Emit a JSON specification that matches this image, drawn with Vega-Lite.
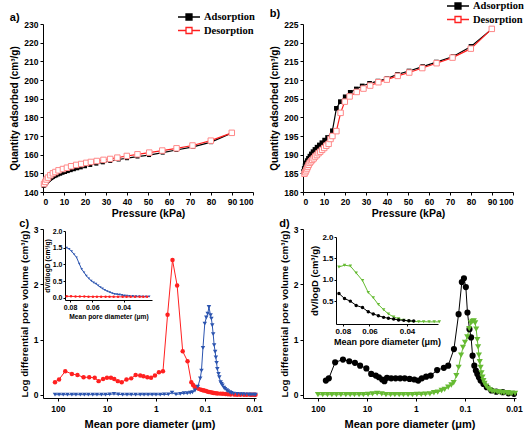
{
"$schema":"https://vega.github.io/schema/vega-lite/v6.json",
"padding":{"left":9,"top":0,"right":0,"bottom":0},
"columns":2,
"spacing":{"row":37,"column":47},
"bounds":"flush",
"resolve":{"scale":{"color":"independent","shape":"independent"},"legend":{"color":"independent","shape":"independent"}},
"config":{
 "font":"Liberation Sans",
 "view":{"stroke":null},
 "axis":{"grid":false,"domainColor":"#000","tickColor":"#000","labelColor":"#000","titleColor":"#000","labelFont":"Liberation Sans","titleFont":"Liberation Sans","labelFontWeight":"bold","titleFontWeight":"bold","labelFontSize":8.5,"titleFontSize":10,"tickSize":3,"labelPadding":2,"domainWidth":1,"tickWidth":1,"titlePadding":4},
 "title":{"font":"Liberation Sans","fontSize":11,"fontWeight":"bold","anchor":"start","frame":"bounds","color":"#000"},
 "legend":{"title":null,"orient":"none","symbolType":"M-2.2,0H-0.6M0.6,0H2.2M-0.6,-0.6H0.6V0.6H-0.6Z","symbolSize":100,"symbolStrokeWidth":1.3,"labelFont":"Liberation Serif","labelFontWeight":"bold","labelFontSize":10.5,"labelColor":"#000","labelOffset":9,"rowPadding":1.5}
},
"concat":[
{
 "width":210,"height":168,
 "title":{"text":"a)","offset":-12},
 "data":{"values":[
  {"s":"Adsorption","p":0.3,"v":143.3},{"s":"Adsorption","p":0.6,"v":143.6},{"s":"Adsorption","p":1.0,"v":144.1},{"s":"Adsorption","p":1.4,"v":144.7},{"s":"Adsorption","p":1.8,"v":145.3},{"s":"Adsorption","p":2.3,"v":145.9},{"s":"Adsorption","p":2.8,"v":146.5},{"s":"Adsorption","p":3.4,"v":147.0},{"s":"Adsorption","p":4.0,"v":147.5},{"s":"Adsorption","p":4.7,"v":148.0},{"s":"Adsorption","p":5.5,"v":148.5},{"s":"Adsorption","p":6.3,"v":148.9},{"s":"Adsorption","p":7.2,"v":149.4},{"s":"Adsorption","p":8.2,"v":149.8},{"s":"Adsorption","p":9.3,"v":150.3},{"s":"Adsorption","p":10.5,"v":150.7},{"s":"Adsorption","p":11.8,"v":151.2},{"s":"Adsorption","p":13.2,"v":151.7},{"s":"Adsorption","p":14.7,"v":152.2},{"s":"Adsorption","p":16.3,"v":152.7},{"s":"Adsorption","p":18,"v":153.2},{"s":"Adsorption","p":20,"v":153.8},{"s":"Adsorption","p":22.5,"v":154.5},{"s":"Adsorption","p":25.4,"v":155.2},{"s":"Adsorption","p":28.5,"v":155.9},{"s":"Adsorption","p":32,"v":156.6},{"s":"Adsorption","p":36,"v":157.4},{"s":"Adsorption","p":40,"v":158.1},{"s":"Adsorption","p":45,"v":159.0},{"s":"Adsorption","p":50.5,"v":159.8},{"s":"Adsorption","p":57,"v":161.1},{"s":"Adsorption","p":63.5,"v":162.5},{"s":"Adsorption","p":71.5,"v":164.2},{"s":"Adsorption","p":80,"v":166.7},{"s":"Adsorption","p":90,"v":171.7},
  {"s":"Desorption","p":0.5,"v":144.3},{"s":"Desorption","p":1.1,"v":145.4},{"s":"Desorption","p":1.7,"v":146.7},{"s":"Desorption","p":2.4,"v":147.7},{"s":"Desorption","p":3.5,"v":149},{"s":"Desorption","p":4.7,"v":150},{"s":"Desorption","p":5.9,"v":150.7},{"s":"Desorption","p":7.4,"v":151.6},{"s":"Desorption","p":9.5,"v":152.3},{"s":"Desorption","p":11.4,"v":153},{"s":"Desorption","p":13.4,"v":153.8},{"s":"Desorption","p":15.8,"v":154.5},{"s":"Desorption","p":18.2,"v":155},{"s":"Desorption","p":20.6,"v":155.6},{"s":"Desorption","p":22.8,"v":156.1},{"s":"Desorption","p":25.6,"v":156.6},{"s":"Desorption","p":28.8,"v":157.2},{"s":"Desorption","p":32,"v":157.7},{"s":"Desorption","p":35.4,"v":158.4},{"s":"Desorption","p":39.9,"v":159.3},{"s":"Desorption","p":45,"v":160.2},{"s":"Desorption","p":50.6,"v":161.1},{"s":"Desorption","p":56.8,"v":162.2},{"s":"Desorption","p":63.6,"v":163.4},{"s":"Desorption","p":71.2,"v":164.9},{"s":"Desorption","p":79.9,"v":167.5},{"s":"Desorption","p":89.9,"v":171.7}
 ]},
 "encoding":{
  "x":{"field":"p","type":"quantitative","scale":{"domain":[0,100],"nice":false},"axis":{"values":[0,10,20,30,40,50,60,70,80,90,100],"title":"Pressure (kPa)","titleFontSize":10.5,"titlePadding":3}},
  "y":{"field":"v","type":"quantitative","scale":{"domain":[140,230],"nice":false,"zero":false},"axis":{"values":[140,150,160,170,180,190,200,210,220,230],"title":"Quantity adsorbed (cm³/g)"}}
 },
 "layer":[
  {"mark":{"type":"line","strokeWidth":1.2},"encoding":{"color":{"field":"s","type":"nominal","scale":{"domain":["Adsorption","Desorption"],"range":["#000000","#ff2020"]},"legend":{"legendX":140,"legendY":-13,"encode":{"symbols":{"update":{"fill":{"signal":"datum.value === 'Adsorption' ? '#000000' : '#ffffff'"}}}}}}}},
  {"transform":[{"filter":"datum.s === 'Adsorption'"}],"mark":{"type":"point","shape":"square","filled":true,"color":"#000","size":16,"opacity":1}},
  {"transform":[{"filter":"datum.s === 'Desorption'"}],"mark":{"type":"point","shape":"square","filled":true,"fill":"#ffffff","stroke":"#ff8888","strokeWidth":1,"size":30,"opacity":1}}
 ]
},
{
 "width":210,"height":168,
 "title":{"text":"b)","offset":-19},
 "data":{"values":[
  {"s":"Adsorption","p":0.3,"v":185.5},{"s":"Adsorption","p":0.6,"v":186.3},{"s":"Adsorption","p":1.0,"v":187.0},{"s":"Adsorption","p":1.5,"v":187.8},{"s":"Adsorption","p":2.0,"v":188.4},{"s":"Adsorption","p":2.6,"v":189.0},{"s":"Adsorption","p":3.3,"v":189.6},{"s":"Adsorption","p":4.0,"v":190.2},{"s":"Adsorption","p":4.8,"v":190.8},{"s":"Adsorption","p":5.7,"v":191.4},{"s":"Adsorption","p":6.7,"v":192.0},{"s":"Adsorption","p":7.8,"v":192.6},{"s":"Adsorption","p":9.0,"v":193.2},{"s":"Adsorption","p":10.3,"v":193.9},{"s":"Adsorption","p":11.7,"v":194.6},{"s":"Adsorption","p":14.0,"v":196.4},{"s":"Adsorption","p":15.9,"v":202.4},{"s":"Adsorption","p":17.8,"v":204.2},{"s":"Adsorption","p":20.1,"v":205.5},{"s":"Adsorption","p":22.5,"v":206.7},{"s":"Adsorption","p":25.4,"v":207.6},{"s":"Adsorption","p":28.2,"v":208.4},{"s":"Adsorption","p":31.7,"v":209.1},{"s":"Adsorption","p":35.7,"v":209.7},{"s":"Adsorption","p":40,"v":210.4},{"s":"Adsorption","p":45,"v":211.5},{"s":"Adsorption","p":50.5,"v":212.4},{"s":"Adsorption","p":57,"v":213.6},{"s":"Adsorption","p":63.5,"v":214.8},{"s":"Adsorption","p":71.5,"v":216.3},{"s":"Adsorption","p":80,"v":219.0},{"s":"Adsorption","p":90,"v":223.7},
  {"s":"Desorption","p":0.7,"v":184.9},{"s":"Desorption","p":1.1,"v":185.3},{"s":"Desorption","p":1.5,"v":185.8},{"s":"Desorption","p":1.9,"v":186.3},{"s":"Desorption","p":2.3,"v":186.8},{"s":"Desorption","p":2.7,"v":187.3},{"s":"Desorption","p":3.2,"v":187.8},{"s":"Desorption","p":3.8,"v":188.2},{"s":"Desorption","p":4.4,"v":188.6},{"s":"Desorption","p":5.1,"v":189.0},{"s":"Desorption","p":5.8,"v":189.5},{"s":"Desorption","p":6.6,"v":189.9},{"s":"Desorption","p":7.4,"v":190.4},{"s":"Desorption","p":8.2,"v":190.8},{"s":"Desorption","p":9.1,"v":191.3},{"s":"Desorption","p":10.1,"v":191.8},{"s":"Desorption","p":11.1,"v":192.4},{"s":"Desorption","p":12.2,"v":192.9},{"s":"Desorption","p":13.1,"v":194.2},{"s":"Desorption","p":14.0,"v":195.0},{"s":"Desorption","p":15.9,"v":196.3},{"s":"Desorption","p":17.9,"v":201.2},{"s":"Desorption","p":19.9,"v":204.2},{"s":"Desorption","p":22.2,"v":205.6},{"s":"Desorption","p":25.6,"v":206.8},{"s":"Desorption","p":28.8,"v":207.7},{"s":"Desorption","p":32,"v":208.5},{"s":"Desorption","p":35.9,"v":209.4},{"s":"Desorption","p":39.9,"v":210.1},{"s":"Desorption","p":45.1,"v":211.1},{"s":"Desorption","p":50.6,"v":212.0},{"s":"Desorption","p":56.8,"v":213.2},{"s":"Desorption","p":63.6,"v":214.5},{"s":"Desorption","p":71.2,"v":216.0},{"s":"Desorption","p":79.9,"v":218.4},{"s":"Desorption","p":89.9,"v":223.7}
 ]},
 "encoding":{
  "x":{"field":"p","type":"quantitative","scale":{"domain":[0,100],"nice":false},"axis":{"values":[0,10,20,30,40,50,60,70,80,90,100],"title":"Pressure (kPa)","titleFontSize":10.5,"titlePadding":3}},
  "y":{"field":"v","type":"quantitative","scale":{"domain":[180,225],"nice":false,"zero":false},"axis":{"values":[180,185,190,195,200,205,210,215,220,225],"title":"Quantity adsorbed (cm³/g)"}}
 },
 "layer":[
  {"mark":{"type":"line","strokeWidth":1.2},"encoding":{"color":{"field":"s","type":"nominal","scale":{"domain":["Adsorption","Desorption"],"range":["#000000","#ff2020"]},"legend":{"legendX":149,"legendY":-24,"encode":{"symbols":{"update":{"fill":{"signal":"datum.value === 'Adsorption' ? '#000000' : '#ffffff'"}}}}}}}},
  {"transform":[{"filter":"datum.s === 'Adsorption'"}],"mark":{"type":"point","shape":"square","filled":true,"color":"#000","size":22,"opacity":1}},
  {"transform":[{"filter":"datum.s === 'Desorption'"}],"mark":{"type":"point","shape":"square","filled":true,"fill":"#ffffff","stroke":"#ff8888","strokeWidth":1,"size":30,"opacity":1}}
 ]
},
{
 "width":213,"height":169,
 "title":{"text":"c)","offset":-4},
 "layer":[
  {
   "data":{"values":[
    {"s":"r","d":115,"v":0.23},{"s":"r","d":95,"v":0.28},{"s":"r","d":71,"v":0.43},{"s":"r","d":52,"v":0.38},{"s":"r","d":40,"v":0.36},{"s":"r","d":30,"v":0.32},{"s":"r","d":23,"v":0.32},{"s":"r","d":17.8,"v":0.31},{"s":"r","d":14.8,"v":0.25},{"s":"r","d":12,"v":0.29},{"s":"r","d":10,"v":0.31},{"s":"r","d":8.3,"v":0.31},{"s":"r","d":7.1,"v":0.29},{"s":"r","d":6.0,"v":0.25},{"s":"r","d":5.0,"v":0.23},{"s":"r","d":4.0,"v":0.28},{"s":"r","d":3.2,"v":0.30},{"s":"r","d":2.6,"v":0.36},{"s":"r","d":2.1,"v":0.35},{"s":"r","d":1.8,"v":0.34},{"s":"r","d":1.5,"v":0.32},{"s":"r","d":1.26,"v":0.31},{"s":"r","d":1.05,"v":0.35},{"s":"r","d":0.87,"v":0.41},{"s":"r","d":0.72,"v":0.43},{"s":"r","d":0.58,"v":1.45},{"s":"r","d":0.46,"v":2.44},{"s":"r","d":0.37,"v":1.98},{"s":"r","d":0.285,"v":0.79},{"s":"r","d":0.227,"v":0.61},{"s":"r","d":0.19,"v":0.23},{"s":"r","d":0.175,"v":0.18},{"s":"r","d":0.163,"v":0.15},{"s":"r","d":0.15,"v":0.13},{"s":"r","d":0.134,"v":0.11},{"s":"r","d":0.12,"v":0.095},{"s":"r","d":0.11,"v":0.085},{"s":"r","d":0.104,"v":0.08},{"s":"r","d":0.095,"v":0.07},{"s":"r","d":0.088,"v":0.06},{"s":"r","d":0.083,"v":0.055},{"s":"r","d":0.076,"v":0.047},{"s":"r","d":0.07,"v":0.04},{"s":"r","d":0.066,"v":0.036},{"s":"r","d":0.06,"v":0.032},{"s":"r","d":0.055,"v":0.028},{"s":"r","d":0.048,"v":0.024},{"s":"r","d":0.043,"v":0.02},{"s":"r","d":0.038,"v":0.016},{"s":"r","d":0.034,"v":0.012},{"s":"r","d":0.03,"v":0.009},{"s":"r","d":0.025,"v":0.006},{"s":"r","d":0.022,"v":0.005},{"s":"r","d":0.019,"v":0.004},{"s":"r","d":0.016,"v":0.003},{"s":"r","d":0.014,"v":0.003},{"s":"r","d":0.012,"v":0.002},{"s":"r","d":0.011,"v":0.002},{"s":"r","d":0.01,"v":0.002},{"s":"r","d":0.0093,"v":0.002},
    {"s":"b","d":115,"v":0.005},{"s":"b","d":95,"v":0.005},{"s":"b","d":78,"v":0.005},{"s":"b","d":64,"v":0.005},{"s":"b","d":52,"v":0.005},{"s":"b","d":43,"v":0.005},{"s":"b","d":35,"v":0.005},{"s":"b","d":29,"v":0.005},{"s":"b","d":24,"v":0.005},{"s":"b","d":19.5,"v":0.005},{"s":"b","d":16,"v":0.005},{"s":"b","d":13,"v":0.005},{"s":"b","d":10.7,"v":0.005},{"s":"b","d":8.8,"v":0.01},{"s":"b","d":7.2,"v":0.02},{"s":"b","d":5.9,"v":0.01},{"s":"b","d":4.8,"v":0.005},{"s":"b","d":3.9,"v":0.005},{"s":"b","d":3.2,"v":0.005},{"s":"b","d":2.6,"v":0.005},{"s":"b","d":2.1,"v":0.005},{"s":"b","d":1.75,"v":0.005},{"s":"b","d":1.45,"v":0.005},{"s":"b","d":1.2,"v":0.005},{"s":"b","d":1.0,"v":0.005},{"s":"b","d":0.82,"v":0.005},{"s":"b","d":0.68,"v":0.01},{"s":"b","d":0.56,"v":0.01},{"s":"b","d":0.47,"v":0.04},{"s":"b","d":0.39,"v":0.01},{"s":"b","d":0.32,"v":0.02},{"s":"b","d":0.27,"v":0.03},{"s":"b","d":0.23,"v":0.03},{"s":"b","d":0.2,"v":0.04},{"s":"b","d":0.18,"v":0.05},{"s":"b","d":0.16,"v":0.08},{"s":"b","d":0.14,"v":0.15},{"s":"b","d":0.125,"v":0.3},{"s":"b","d":0.118,"v":0.44},{"s":"b","d":0.11,"v":0.85},{"s":"b","d":0.101,"v":1.29},{"s":"b","d":0.094,"v":1.4},{"s":"b","d":0.088,"v":1.47},{"s":"b","d":0.083,"v":1.59},{"s":"b","d":0.077,"v":1.44},{"s":"b","d":0.074,"v":1.38},{"s":"b","d":0.071,"v":1.26},{"s":"b","d":0.068,"v":1.1},{"s":"b","d":0.065,"v":0.9},{"s":"b","d":0.062,"v":0.78},{"s":"b","d":0.06,"v":0.68},{"s":"b","d":0.058,"v":0.58},{"s":"b","d":0.056,"v":0.47},{"s":"b","d":0.053,"v":0.38},{"s":"b","d":0.051,"v":0.32},{"s":"b","d":0.048,"v":0.23},{"s":"b","d":0.046,"v":0.2},{"s":"b","d":0.044,"v":0.17},{"s":"b","d":0.041,"v":0.13},{"s":"b","d":0.039,"v":0.11},{"s":"b","d":0.036,"v":0.085},{"s":"b","d":0.034,"v":0.067},{"s":"b","d":0.031,"v":0.05},{"s":"b","d":0.029,"v":0.036},{"s":"b","d":0.026,"v":0.025},{"s":"b","d":0.022,"v":0.018},{"s":"b","d":0.019,"v":0.015},{"s":"b","d":0.017,"v":0.012},{"s":"b","d":0.015,"v":0.01},{"s":"b","d":0.013,"v":0.008},{"s":"b","d":0.012,"v":0.006},{"s":"b","d":0.011,"v":0.006},{"s":"b","d":0.01,"v":0.005},{"s":"b","d":0.0093,"v":0.005}
   ]},
   "encoding":{
    "x":{"field":"d","type":"quantitative","scale":{"type":"log","domain":[0.0091,202],"reverse":true,"nice":false},"axis":{"values":[100,10,1,0.1,0.01],"format":"~g","title":"Mean pore diameter (μm)","titleFontSize":11,"titlePadding":6,"labelPadding":3}},
    "y":{"field":"v","type":"quantitative","scale":{"domain":[-0.055,3],"nice":false,"zero":false},"axis":{"values":[0,1,2,3],"title":"Log differential pore volume (cm³/g)","titleFontSize":9.8}},
    "color":{"field":"s","type":"nominal","scale":{"domain":["r","b"],"range":["#ff2020","#2c55b0"]},"legend":null}
   },
   "layer":[
    {"mark":{"type":"line","strokeWidth":1}},
    {"mark":{"type":"point","filled":true,"opacity":1,"size":20},"encoding":{"shape":{"field":"s","type":"nominal","scale":{"domain":["r","b"],"range":["circle","triangle-down"]},"legend":null}}}
   ]
  },
  {
   "data":{"values":[
    {"s":"b","d":0.0835,"v":1.5},{"s":"b","d":0.0808,"v":1.46},{"s":"b","d":0.0783,"v":1.39},{"s":"b","d":0.0758,"v":1.3},{"s":"b","d":0.0735,"v":1.21},{"s":"b","d":0.071,"v":1.02},{"s":"b","d":0.0688,"v":0.86},{"s":"b","d":0.0667,"v":0.76},{"s":"b","d":0.0647,"v":0.66},{"s":"b","d":0.0627,"v":0.58},{"s":"b","d":0.0607,"v":0.51},{"s":"b","d":0.0589,"v":0.46},{"s":"b","d":0.0571,"v":0.42},{"s":"b","d":0.0555,"v":0.37},{"s":"b","d":0.054,"v":0.32},{"s":"b","d":0.0525,"v":0.28},{"s":"b","d":0.051,"v":0.24},{"s":"b","d":0.0494,"v":0.2},{"s":"b","d":0.0478,"v":0.17},{"s":"b","d":0.0463,"v":0.14},{"s":"b","d":0.0449,"v":0.12},{"s":"b","d":0.0435,"v":0.11},{"s":"b","d":0.0421,"v":0.1},{"s":"b","d":0.0408,"v":0.085},{"s":"b","d":0.0395,"v":0.07},{"s":"b","d":0.0383,"v":0.065},{"s":"b","d":0.0371,"v":0.06},{"s":"b","d":0.0355,"v":0.055},{"s":"b","d":0.034,"v":0.05},{"s":"b","d":0.0326,"v":0.048},{"s":"b","d":0.0313,"v":0.045},{"s":"b","d":0.03,"v":0.045},{"s":"b","d":0.0287,"v":0.045},
    {"s":"r","d":0.0835,"v":0.05},{"s":"r","d":0.079,"v":0.05},{"s":"r","d":0.0745,"v":0.045},{"s":"r","d":0.0705,"v":0.045},{"s":"r","d":0.0665,"v":0.045},{"s":"r","d":0.063,"v":0.04},{"s":"r","d":0.0595,"v":0.04},{"s":"r","d":0.0565,"v":0.04},{"s":"r","d":0.0535,"v":0.04},{"s":"r","d":0.0505,"v":0.04},{"s":"r","d":0.048,"v":0.04},{"s":"r","d":0.0455,"v":0.035},{"s":"r","d":0.043,"v":0.035},{"s":"r","d":0.0405,"v":0.035},{"s":"r","d":0.0385,"v":0.035},{"s":"r","d":0.0365,"v":0.035},{"s":"r","d":0.0345,"v":0.035},{"s":"r","d":0.0325,"v":0.035},{"s":"r","d":0.031,"v":0.035},{"s":"r","d":0.0295,"v":0.035}
   ]},
   "encoding":{
    "x":{"field":"d","type":"quantitative","scale":{"type":"log","domain":[0.0277,0.0854],"range":[109,22],"nice":false},"axis":{"orient":"bottom","offset":-98,"values":[0.08,0.06,0.04],"format":".2f","title":"Mean pore diameter (μm)","labelFontSize":7,"titleFontSize":6.7,"tickSize":2,"labelPadding":1,"titlePadding":3}},
    "y":{"field":"v","type":"quantitative","scale":{"domain":[-0.06,2.0],"range":[71,2],"nice":false,"zero":false},"axis":{"orient":"left","offset":-22,"values":[0,0.5,1,1.5,2],"format":".1f","title":"dV/dlogD (cm³/g)","labelFontSize":7,"titleFontSize":6.7,"tickSize":2,"labelPadding":1,"titlePadding":2}},
    "color":{"field":"s","type":"nominal","scale":{"domain":["r","b"],"range":["#ff2020","#2c55b0"]},"legend":null}
   },
   "layer":[
    {"mark":{"type":"line","strokeWidth":1}},
    {"mark":{"type":"point","filled":true,"opacity":1,"size":6},"encoding":{"shape":{"field":"s","type":"nominal","scale":{"domain":["r","b"],"range":["circle","triangle-down"]},"legend":null}}}
   ]
  }
 ],
 "resolve":{"scale":{"x":"independent","y":"independent"}}
},
{
 "width":213,"height":169,
 "title":{"text":"d)","offset":-4},
 "layer":[
  {
   "data":{"values":[
    {"s":"k","d":69,"v":0.26},{"s":"k","d":60,"v":0.30},{"s":"k","d":44.6,"v":0.59},{"s":"k","d":30.9,"v":0.64},{"s":"k","d":23,"v":0.61},{"s":"k","d":17.6,"v":0.58},{"s":"k","d":13.8,"v":0.53},{"s":"k","d":10.3,"v":0.48},{"s":"k","d":8.2,"v":0.38},{"s":"k","d":6.6,"v":0.35},{"s":"k","d":5.7,"v":0.32},{"s":"k","d":4.9,"v":0.28},{"s":"k","d":4.4,"v":0.25},{"s":"k","d":3.9,"v":0.31},{"s":"k","d":3.2,"v":0.30},{"s":"k","d":2.6,"v":0.30},{"s":"k","d":2.1,"v":0.30},{"s":"k","d":1.7,"v":0.30},{"s":"k","d":1.35,"v":0.29},{"s":"k","d":1.08,"v":0.28},{"s":"k","d":0.9,"v":0.26},{"s":"k","d":0.76,"v":0.30},{"s":"k","d":0.62,"v":0.33},{"s":"k","d":0.5,"v":0.35},{"s":"k","d":0.37,"v":0.45},{"s":"k","d":0.27,"v":0.49},{"s":"k","d":0.22,"v":0.53},{"s":"k","d":0.168,"v":0.83},{"s":"k","d":0.135,"v":1.46},{"s":"k","d":0.116,"v":2.04},{"s":"k","d":0.105,"v":2.11},{"s":"k","d":0.096,"v":1.95},{"s":"k","d":0.089,"v":1.49},{"s":"k","d":0.081,"v":1.19},{"s":"k","d":0.075,"v":1.04},{"s":"k","d":0.07,"v":0.71},{"s":"k","d":0.0645,"v":0.53},{"s":"k","d":0.06,"v":0.44},{"s":"k","d":0.056,"v":0.38},{"s":"k","d":0.052,"v":0.32},{"s":"k","d":0.048,"v":0.26},{"s":"k","d":0.042,"v":0.2},{"s":"k","d":0.036,"v":0.14},{"s":"k","d":0.029,"v":0.08},{"s":"k","d":0.023,"v":0.06},{"s":"k","d":0.017,"v":0.05},{"s":"k","d":0.013,"v":0.03},{"s":"k","d":0.01,"v":0.02},
    {"s":"g","d":100,"v":0.005},{"s":"g","d":80,"v":0.005},{"s":"g","d":64,"v":0.005},{"s":"g","d":52,"v":0.005},{"s":"g","d":42,"v":0.005},{"s":"g","d":34,"v":0.005},{"s":"g","d":27,"v":0.005},{"s":"g","d":22,"v":0.005},{"s":"g","d":18,"v":0.005},{"s":"g","d":14.5,"v":0.005},{"s":"g","d":11.8,"v":0.005},{"s":"g","d":9.5,"v":0.01},{"s":"g","d":7.7,"v":0.02},{"s":"g","d":6.2,"v":0.03},{"s":"g","d":5.0,"v":0.02},{"s":"g","d":4.1,"v":0.005},{"s":"g","d":3.3,"v":0.005},{"s":"g","d":2.7,"v":0.005},{"s":"g","d":2.2,"v":0.005},{"s":"g","d":1.8,"v":0.005},{"s":"g","d":1.45,"v":0.005},{"s":"g","d":1.18,"v":0.005},{"s":"g","d":0.96,"v":0.01},{"s":"g","d":0.78,"v":0.01},{"s":"g","d":0.64,"v":0.015},{"s":"g","d":0.52,"v":0.02},{"s":"g","d":0.43,"v":0.04},{"s":"g","d":0.36,"v":0.05},{"s":"g","d":0.3,"v":0.08},{"s":"g","d":0.26,"v":0.1},{"s":"g","d":0.22,"v":0.14},{"s":"g","d":0.19,"v":0.18},{"s":"g","d":0.17,"v":0.22},{"s":"g","d":0.15,"v":0.35},{"s":"g","d":0.135,"v":0.5},{"s":"g","d":0.12,"v":0.72},{"s":"g","d":0.11,"v":0.86},{"s":"g","d":0.1,"v":0.95},{"s":"g","d":0.09,"v":1.05},{"s":"g","d":0.082,"v":1.2},{"s":"g","d":0.076,"v":1.3},{"s":"g","d":0.071,"v":1.33},{"s":"g","d":0.066,"v":1.34},{"s":"g","d":0.062,"v":1.3},{"s":"g","d":0.059,"v":1.19},{"s":"g","d":0.056,"v":1.0},{"s":"g","d":0.054,"v":0.87},{"s":"g","d":0.052,"v":0.72},{"s":"g","d":0.05,"v":0.6},{"s":"g","d":0.048,"v":0.5},{"s":"g","d":0.046,"v":0.4},{"s":"g","d":0.044,"v":0.32},{"s":"g","d":0.042,"v":0.26},{"s":"g","d":0.04,"v":0.21},{"s":"g","d":0.037,"v":0.16},{"s":"g","d":0.034,"v":0.12},{"s":"g","d":0.031,"v":0.09},{"s":"g","d":0.028,"v":0.07},{"s":"g","d":0.025,"v":0.06},{"s":"g","d":0.022,"v":0.055},{"s":"g","d":0.02,"v":0.05},{"s":"g","d":0.018,"v":0.045},{"s":"g","d":0.016,"v":0.04},{"s":"g","d":0.014,"v":0.035},{"s":"g","d":0.013,"v":0.035},{"s":"g","d":0.012,"v":0.03},{"s":"g","d":0.011,"v":0.03},{"s":"g","d":0.0095,"v":0.03}
   ]},
   "encoding":{
    "x":{"field":"d","type":"quantitative","scale":{"type":"log","domain":[0.0091,202],"reverse":true,"nice":false},"axis":{"values":[100,10,1,0.1,0.01],"format":"~g","title":"Mean pore diameter (μm)","titleFontSize":11,"titlePadding":6,"labelPadding":3}},
    "y":{"field":"v","type":"quantitative","scale":{"domain":[-0.055,3],"nice":false,"zero":false},"axis":{"values":[0,1,2,3],"title":"Log differential pore volume (cm³/g)","titleFontSize":9.8}},
    "color":{"field":"s","type":"nominal","scale":{"domain":["k","g"],"range":["#000000","#66bb33"]},"legend":null}
   },
   "layer":[
    {"mark":{"type":"line","strokeWidth":1}},
    {"mark":{"type":"point","filled":true,"opacity":1,"size":38},"encoding":{"shape":{"field":"s","type":"nominal","scale":{"domain":["k","g"],"range":["circle","triangle-down"]},"legend":null}}}
   ]
  },
  {
   "data":{"values":[
    {"s":"g","d":0.0835,"v":1.30},{"s":"g","d":0.0786,"v":1.34},{"s":"g","d":0.0738,"v":1.32},{"s":"g","d":0.0693,"v":1.16},{"s":"g","d":0.0647,"v":0.98},{"s":"g","d":0.0608,"v":0.70},{"s":"g","d":0.0576,"v":0.58},{"s":"g","d":0.0545,"v":0.42},{"s":"g","d":0.0515,"v":0.30},{"s":"g","d":0.0489,"v":0.20},{"s":"g","d":0.0462,"v":0.13},{"s":"g","d":0.0438,"v":0.09},{"s":"g","d":0.0414,"v":0.055},{"s":"g","d":0.0392,"v":0.03},{"s":"g","d":0.0372,"v":0.025},{"s":"g","d":0.0352,"v":0.02},{"s":"g","d":0.0334,"v":0.02},{"s":"g","d":0.0315,"v":0.015},{"s":"g","d":0.0298,"v":0.015},{"s":"g","d":0.0282,"v":0.015},
    {"s":"k","d":0.0835,"v":0.68},{"s":"k","d":0.0786,"v":0.56},{"s":"k","d":0.0738,"v":0.50},{"s":"k","d":0.0693,"v":0.40},{"s":"k","d":0.0647,"v":0.35},{"s":"k","d":0.0608,"v":0.25},{"s":"k","d":0.0576,"v":0.2},{"s":"k","d":0.0545,"v":0.16},{"s":"k","d":0.0515,"v":0.12},{"s":"k","d":0.0489,"v":0.1},{"s":"k","d":0.0462,"v":0.08},{"s":"k","d":0.0438,"v":0.06},{"s":"k","d":0.0414,"v":0.05},{"s":"k","d":0.0392,"v":0.04},{"s":"k","d":0.0372,"v":0.035}
   ]},
   "encoding":{
    "x":{"field":"d","type":"quantitative","scale":{"type":"log","domain":[0.0286,0.0862],"range":[135,33],"nice":false},"axis":{"orient":"bottom","offset":-74,"values":[0.08,0.06,0.04],"format":".2f","title":"Mean pore diameter (μm)","labelFontSize":8,"titleFontSize":9,"tickSize":2,"labelPadding":1,"titlePadding":2}},
    "y":{"field":"v","type":"quantitative","scale":{"domain":[-0.035,2.0],"range":[95,8],"nice":false,"zero":false},"axis":{"orient":"left","offset":-33,"values":[0.5,1,1.5,2],"format":".1f","title":"dV/logD (cm³/g)","labelFontSize":8,"titleFontSize":9.5,"tickSize":2,"labelPadding":1,"titlePadding":2}},
    "color":{"field":"s","type":"nominal","scale":{"domain":["k","g"],"range":["#000000","#66bb33"]},"legend":null}
   },
   "layer":[
    {"mark":{"type":"line","strokeWidth":1}},
    {"mark":{"type":"point","filled":true,"opacity":1,"size":12},"encoding":{"shape":{"field":"s","type":"nominal","scale":{"domain":["k","g"],"range":["circle","triangle-down"]},"legend":null}}}
   ]
  }
 ],
 "resolve":{"scale":{"x":"independent","y":"independent"}}
}
]
}
